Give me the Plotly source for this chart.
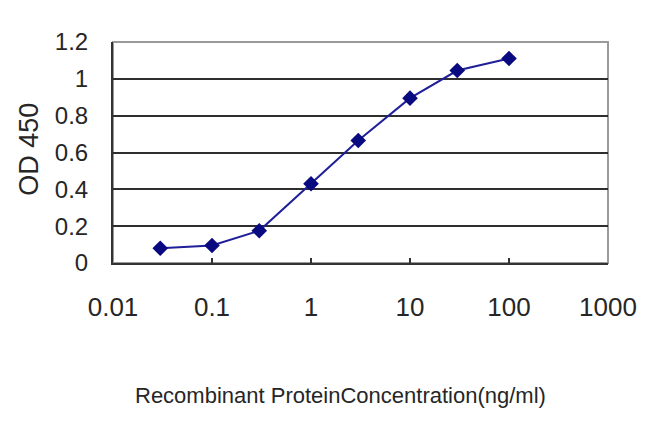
import plotly.graph_objects as go

concentration = [0.03, 0.1, 0.3, 1, 3, 10, 30, 100]
od450 = [0.08, 0.095, 0.175, 0.43, 0.665, 0.895, 1.045, 1.11]

x_ticks = [0.01, 0.1, 1, 10, 100, 1000]
x_tick_text = ["0.01", "0.1", "1", "10", "100", "1000"]
y_ticks = [0, 0.2, 0.4, 0.6, 0.8, 1.0, 1.2]
y_tick_text = ["0", "0.2", "0.4", "0.6", "0.8", "1", "1.2"]

fig = go.Figure()
fig.add_trace(go.Scatter(
    x=concentration, y=od450, mode="lines+markers",
    line=dict(color="#1f1f99", width=2),
    marker=dict(symbol="diamond", size=12, color="#0a0a80"),
    showlegend=False,
))

regular = "Liberation Sans, Arial, sans-serif"
txt = "#262626"
fig.update_layout(
    width=650, height=433,
    margin=dict(l=105, r=50, t=34, b=178),
    paper_bgcolor="white", plot_bgcolor="white",
    font=dict(family=regular, color=txt),
    xaxis=dict(
        type="log", range=[-2, 3],
        tickvals=x_ticks, ticktext=x_tick_text,
        tickfont=dict(family=regular, size=26, color=txt),
        showgrid=False, zeroline=False,
        showline=True, linecolor="#333333", linewidth=2,
        ticks="inside", ticklen=5, tickcolor="#333333", tickwidth=2,
        ticklabelstandoff=20,
    ),
    yaxis=dict(
        range=[0, 1.2],
        tickvals=y_ticks, ticktext=y_tick_text,
        tickfont=dict(family=regular, size=24, color=txt),
        showgrid=True, gridcolor="#2e2e2e", gridwidth=2,
        zeroline=False,
        showline=True, linecolor="#333333", linewidth=2,
        ticks="", ticklabelstandoff=18,
    ),
    shapes=[dict(type="rect", xref="paper", yref="paper", x0=0, x1=1, y0=0, y1=1,
                 line=dict(color="#9a9a9a", width=2), layer="below")],
    annotations=[
        dict(text="Recombinant ProteinConcentration(ng/ml)", xref="paper", yref="paper",
             x=0.459, y=-0.60, xanchor="center", yanchor="middle", showarrow=False,
             font=dict(family=regular, size=22, color=txt)),
        dict(text="OD 450", xref="paper", yref="paper", textangle=-90,
             x=-0.170, y=0.516, xanchor="center", yanchor="middle", showarrow=False,
             font=dict(family=regular, size=27, color=txt)),
    ],
)
fig.write_html("out.html")
